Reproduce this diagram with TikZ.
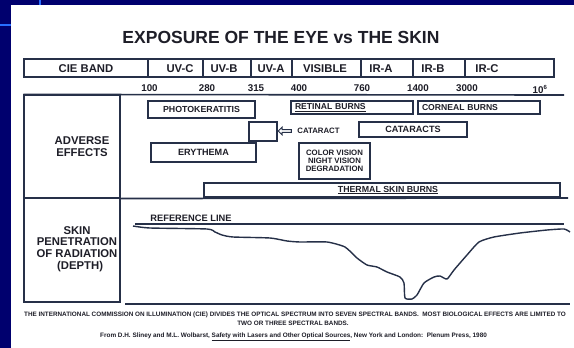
\documentclass[tikz,border=0pt]{standalone}
\usepackage{fontspec}
\setmainfont{Liberation Sans}
\usetikzlibrary{shapes.arrows}
\definecolor{bg}{RGB}{0,0,110}
\definecolor{lb}{RGB}{40,110,255}
\definecolor{lc}{RGB}{38,48,72}
\definecolor{tc}{RGB}{30,30,40}
\begin{document}
\begin{tikzpicture}[x=1pt,y=-1pt,
  f/.style={font=\bfseries\fontsize{#1}{#1}\selectfont,text=tc,inner sep=0pt},
  box/.style={draw=lc,line width=1.1pt,fill=white,inner sep=0pt,text=tc},
  cell/.style={draw=lc,line width=1.1pt,inner sep=0pt,minimum height=18pt},
  rule/.style={draw=lc,line width=1.6pt}]
\useasboundingbox (0,0) rectangle (574,348);
\fill[bg] (0,0) rectangle (574,348);
\fill[white] (11,5) rectangle (574,348);
\draw[lb,line width=1.2pt] (40,0) -- (40,5);
\draw[lb,line width=1.2pt] (0,25) -- (11,25);

% title
\node[f=17.5,anchor=base] (title) at (281,43) {EXPOSURE OF THE EYE vs THE SKIN};

% CIE band row
\node[cell,minimum width=124pt] (c0) at (86,68) {};
\node[cell,minimum width=55pt] (c1) at (175.5,68) {};
\node[cell,minimum width=48pt] (c2) at (227,68) {};
\node[cell,minimum width=41pt] (c3) at (271.5,68) {};
\node[cell,minimum width=69pt] (c4) at (326.5,68) {};
\node[cell,minimum width=52pt] (c5) at (387,68) {};
\node[cell,minimum width=52pt] (c6) at (439,68) {};
\node[cell,minimum width=89pt] (c7) at (509.5,68) {};
\node[f=11.3,anchor=base] (l0) at (86,72) {CIE BAND};
\node[f=11.3,anchor=base] (l1) at (180,72) {UV-C};
\node[f=11.3,anchor=base] (l2) at (224,72) {UV-B};
\node[f=11.3,anchor=base] (l3) at (271,72) {UV-A};
\node[f=11.3,anchor=base] (l4) at (325,72) {VISIBLE};
\node[f=11.3,anchor=base] (l5) at (381,72) {IR-A};
\node[f=11.3,anchor=base] (l6) at (433,72) {IR-B};
\node[f=11.3,anchor=base] (l7) at (487,72) {IR-C};

% wavelengths
\node[f=9.8,anchor=base] (n1) at (149.5,91) {100};
\node[f=9.8,anchor=base] (n2) at (207,91) {280};
\node[f=9.8,anchor=base] (n3) at (256,91) {315};
\node[f=9.8,anchor=base] (n4) at (299,91) {400};
\node[f=9.8,anchor=base] (n5) at (362,91) {760};
\node[f=9.8,anchor=base] (n6) at (418,91) {1400};
\node[f=9.8,anchor=base] (n7) at (467,91) {3000};
\node[f=9.8,anchor=base] (n8) at (540,93) {10\textsuperscript{\fontsize{6}{6}\selectfont 6}};

% table frame
\node[draw=lc,line width=1.1pt,minimum width=96pt,minimum height=103pt,inner sep=0pt] (adv) at (72,146.5) {};
\node[draw=lc,line width=1.1pt,minimum width=96pt,minimum height=104pt,inner sep=0pt] (skin) at (72,250) {};
\coordinate (topR) at (564,95);
\coordinate (midR) at (568,198);
\coordinate (botL) at (125,304);
\coordinate (botR) at (570,304);
\draw[rule] (adv.north west) -- (topR);
\draw[rule] (adv.south east) -- (midR);
\draw[rule] (botL) -- (botR);

\node[f=11,align=center,font=\bfseries\fontsize{11.3}{12}\selectfont] (advl) at (82,147) {ADVERSE\\EFFECTS};
\node[f=11,align=center,font=\bfseries\fontsize{11.3}{11.8}\selectfont] (skinl) at (77,249) {SKIN\\PENETRATION\\OF RADIATION\\\ \ (DEPTH)};

% adverse effect boxes
\node[box,minimum width=107pt,minimum height=17pt,font=\bfseries\fontsize{8.8}{9}\selectfont] (photo) at (201.5,109.5) {PHOTOKERATITIS};
\node[box,minimum width=122pt,minimum height=13pt,inner xsep=4pt,text width=114pt,align=left,font=\bfseries\fontsize{8.6}{9}\selectfont] (retinal) at (352,107.5) {\underline{RETINAL BURNS}};
\node[box,minimum width=122pt,minimum height=13pt,inner xsep=4pt,text width=114pt,align=left,font=\bfseries\fontsize{8.6}{9}\selectfont] (corneal) at (479,107.5) {CORNEAL BURNS};
\node[box,minimum width=28pt,minimum height=19pt] (catbox) at (263,131.5) {};
\node[single arrow,draw=lc,line width=1pt,fill=white,shape border rotate=180,minimum height=13pt,minimum width=7.5pt,single arrow head extend=1.8pt,inner sep=0.6pt] (arr) at (285.5,131) {};
\node[f=7.8] (catl) at (318.5,131) {CATARACT};
\node[box,minimum width=108pt,minimum height=15pt,font=\bfseries\fontsize{9.1}{9}\selectfont] (cats) at (413,129.5) {CATARACTS};
\node[box,minimum width=105pt,minimum height=19pt,font=\bfseries\fontsize{9.1}{9}\selectfont] (ery) at (203.5,152.5) {ERYTHEMA};
\node[box,minimum width=71pt,minimum height=36pt,align=center,font=\bfseries\fontsize{7.8}{8.2}\selectfont] (colv) at (334.5,161) {COLOR VISION\\NIGHT VISION\\DEGRADATION};
\node[box,minimum width=356pt,minimum height=14pt,font=\bfseries\fontsize{8.8}{9}\selectfont] (therm) at (382,190) {\hspace*{12pt}\underline{THERMAL SKIN BURNS}};

% skin penetration
\node[f=9.3,anchor=base] (refl) at (191,221) {REFERENCE LINE};
\coordinate (refA) at (135,224);
\coordinate (refB) at (564,224);
\draw[lc,line width=2.6pt] (refA) -- (refB);
\draw[lc,line width=1.4pt,line join=round] plot[smooth,tension=0.35] coordinates {
 (133,226) (150,228) (207,229) (215,232) (222,235) (233,237) (270,238) (287,241)
 (300,242) (327,242) (345,247) (357,258) (367,265) (377,267) (387,272) (400,277)
 (404,283) (405,298) (412,299) (417,295) (424,283) (434,277) (440,276) (447,279)
 (454,270) (467,255) (479,242) (494,237) (520,233) (547,230) (564,229) (570,232)};

% footnotes
\node[f=6.35,anchor=base] (foot1) at (295,316) {THE INTERNATIONAL COMMISSION ON ILLUMINATION (CIE) DIVIDES THE OPTICAL SPECTRUM INTO SEVEN SPECTRAL BANDS.\ \ MOST BIOLOGICAL EFFECTS ARE LIMITED TO};
\node[f=6.35,anchor=base] (foot2) at (293,325) {TWO OR THREE SPECTRAL BANDS.};
\node[f=6.4,anchor=base west] (foot3) at (100,337) {From D.H. Sliney and M.L. Wolbarst, \underline{Safety with Lasers and Other Optical Sources}, New York and London:\ \ Plenum Press, 1980};
\end{tikzpicture}
\end{document}
